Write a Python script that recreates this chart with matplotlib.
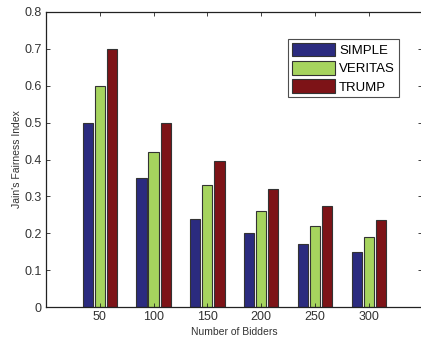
import numpy as np
import matplotlib
matplotlib.use("Agg")
import matplotlib.pyplot as plt

plt.rcParams['font.family'] = ['Liberation Sans', 'DejaVu Sans']

bidders = ["50", "100", "150", "200", "250", "300"]
simple = [0.50, 0.35, 0.24, 0.20, 0.17, 0.15]
veritas = [0.60, 0.42, 0.33, 0.26, 0.22, 0.19]
trump = [0.70, 0.50, 0.395, 0.32, 0.275, 0.235]

series = [("SIMPLE", simple, "#2b2b7f"),
          ("VERITAS", veritas, "#a6d45e"),
          ("TRUMP", trump, "#7d1317")]

fig = plt.figure(figsize=(4.21, 3.37), dpi=100)
ax = fig.add_axes([46 / 421, 30 / 337, 376.5 / 421, 295 / 337])

x = np.arange(1, len(bidders) + 1)
width = 0.19
offset = 0.224
for i, (name, vals, col) in enumerate(series):
    ax.bar(x + (i - 1) * offset, vals, width, color=col, edgecolor="#333333",
           linewidth=0.8, label=name)

ax.set_xlim(0, 7)
ax.set_ylim(0, 0.8)
ax.set_xticks(x)
ax.set_xticklabels(bidders)
ax.set_yticks(np.arange(0, 0.81, 0.1))
ax.set_yticklabels(["0", "0.1", "0.2", "0.3", "0.4", "0.5", "0.6", "0.7", "0.8"])
ax.tick_params(direction="in", top=True, right=True, labelsize=9, length=3,
               width=0.6, pad=3, colors="#222222", labelcolor="#333333")
for s in ax.spines.values():
    s.set_linewidth(0.9)
    s.set_color("#222222")

ax.set_xlabel("Number of Bidders", fontsize=7.5, labelpad=2.5, color="#333333")
ax.set_ylabel("Jain's Fairness Index", fontsize=7.5, labelpad=2, color="#333333")

# legend box in pixels: x 289-399, y 39-97
leg = ax.legend(loc="upper right",
                bbox_to_anchor=((399 - 46) / 376.5, (307 - 39) / 295),
                bbox_transform=ax.transAxes, fontsize=9.5, frameon=True, fancybox=False,
                handlelength=3.3, handleheight=1.2, handletextpad=0.3,
                labelspacing=0.3, borderpad=0.3, borderaxespad=0)
leg.get_frame().set_edgecolor("#222222")
leg.get_frame().set_linewidth(0.8)

fig.savefig("out.png", dpi=100)
